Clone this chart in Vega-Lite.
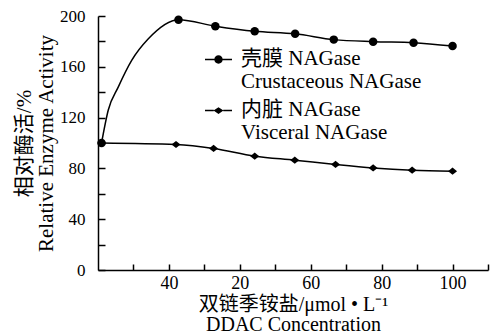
{
  "$schema": "https://vega.github.io/schema/vega-lite/v6.json",
  "width": 390,
  "height": 254,
  "autosize": {"type": "none"},
  "padding": {"left": 98, "top": 16, "right": 10, "bottom": 65},
  "background": "white",
  "config": {
    "view": {"stroke": null},
    "font": "Liberation Serif",
    "axis": {"grid": false, "domainColor": "black", "domainWidth": 1.5, "tickColor": "black", "tickWidth": 1.5, "labelColor": "black", "titleColor": "black", "titleFontWeight": "normal", "labelFont": "Liberation Serif", "titleFont": "Liberation Serif, Noto Sans CJK SC"}
  },
  "datasets": {
    "lines": [
      {"series": "Crustaceous", "x": 1, "y": 100},
      {"series": "Crustaceous", "x": 2.9, "y": 126},
      {"series": "Crustaceous", "x": 5.7, "y": 144},
      {"series": "Crustaceous", "x": 9.5, "y": 165},
      {"series": "Crustaceous", "x": 14.2, "y": 182},
      {"series": "Crustaceous", "x": 22.7, "y": 197},
      {"series": "Crustaceous", "x": 33.1, "y": 192},
      {"series": "Crustaceous", "x": 44.2, "y": 188},
      {"series": "Crustaceous", "x": 55.6, "y": 186},
      {"series": "Crustaceous", "x": 66.5, "y": 181.4},
      {"series": "Crustaceous", "x": 77.6, "y": 179.8},
      {"series": "Crustaceous", "x": 89, "y": 179},
      {"series": "Crustaceous", "x": 100, "y": 176.3},
      {"series": "Visceral", "x": 1, "y": 100},
      {"series": "Visceral", "x": 22, "y": 98.8},
      {"series": "Visceral", "x": 32.6, "y": 95.7},
      {"series": "Visceral", "x": 44.2, "y": 89.6},
      {"series": "Visceral", "x": 55.5, "y": 86.5},
      {"series": "Visceral", "x": 67, "y": 83.1},
      {"series": "Visceral", "x": 77.6, "y": 80.4},
      {"series": "Visceral", "x": 88.6, "y": 78.6},
      {"series": "Visceral", "x": 100, "y": 77.8}
    ],
    "measured": [
      {"series": "Crustaceous", "x": 1, "y": 100},
      {"series": "Crustaceous", "x": 22.7, "y": 197},
      {"series": "Crustaceous", "x": 33.1, "y": 192},
      {"series": "Crustaceous", "x": 44.2, "y": 188},
      {"series": "Crustaceous", "x": 55.6, "y": 186},
      {"series": "Crustaceous", "x": 66.5, "y": 181.4},
      {"series": "Crustaceous", "x": 77.6, "y": 179.8},
      {"series": "Crustaceous", "x": 89, "y": 179},
      {"series": "Crustaceous", "x": 100, "y": 176.3},
      {"series": "Visceral", "x": 1, "y": 100},
      {"series": "Visceral", "x": 22, "y": 98.8},
      {"series": "Visceral", "x": 32.6, "y": 95.7},
      {"series": "Visceral", "x": 44.2, "y": 89.6},
      {"series": "Visceral", "x": 55.5, "y": 86.5},
      {"series": "Visceral", "x": 67, "y": 83.1},
      {"series": "Visceral", "x": 77.6, "y": 80.4},
      {"series": "Visceral", "x": 88.6, "y": 78.6},
      {"series": "Visceral", "x": 100, "y": 77.8}
    ]
  },
  "encoding": {
    "x": {
      "field": "x", "type": "quantitative",
      "scale": {"domain": [0, 110], "nice": false, "zero": true},
      "axis": {
        "values": [10, 20, 30, 40, 50, 60, 70, 80, 90, 100, 110],
        "labelExpr": "datum.value == 20 ? '40' : datum.value == 40 ? '20' : (datum.value % 20 == 0 ? datum.label : '')",
        "tickSize": -6, "labelPadding": 10, "labelFontSize": 18,
        "title": ["双链季铵盐/μmol • L⁻¹", "DDAC Concentration"],
        "titleFontSize": 20, "titlePadding": 2, "titleLineHeight": 20
      }
    },
    "y": {
      "field": "y", "type": "quantitative",
      "scale": {"domain": [0, 200], "nice": false},
      "axis": {
        "values": [0, 20, 40, 60, 80, 100, 120, 140, 160, 180, 200],
        "labelExpr": "datum.value % 40 == 0 ? datum.label : ''",
        "tickSize": -7, "labelPadding": 20, "labelFontSize": 17,
        "title": ["相对酶活/%", "Relative Enzyme Activity"],
        "titleFontSize": 21, "titlePadding": 3, "titleLineHeight": 22
      }
    }
  },
  "layer": [
    {
      "data": {"name": "lines"},
      "mark": {"type": "line", "interpolate": "monotone", "strokeWidth": 1.5},
      "encoding": {
        "color": {
          "field": "series", "type": "nominal",
          "scale": {"domain": ["Crustaceous", "Visceral"], "range": ["black", "black"]},
          "legend": {
            "orient": "none", "legendX": 107, "legendY": 30,
            "title": null,
            "labelExpr": "datum.value === 'Crustaceous' ? ['壳膜 NAGase', 'Crustaceous NAGase'] : ['内脏 NAGase', 'Visceral NAGase']",
            "labelFont": "Liberation Serif, Noto Sans CJK SC",
            "labelFontSize": 21, "labelColor": "black", "labelLimit": 0,
            "labelBaseline": "top", "labelOffset": 9,
            "symbolSize": 729, "symbolStrokeWidth": 0, "symbolFillColor": "black",
            "rowPadding": 5,
            "encode": {
              "symbols": {"update": {
                "shape": {"signal": "datum.value === 'Crustaceous' ? 'M-1,-0.056H-0.28V0.056H-1ZM0.28,-0.056H1V0.056H0.28ZM-0.31,0A0.31,0.31 0 1,1 0.31,0A0.31,0.31 0 1,1 -0.31,0Z' : 'M-1,-0.056H-0.35V0.056H-1ZM0.35,-0.056H1V0.056H0.35ZM-0.37,0L0,-0.25L0.37,0L0,0.25Z'"},
                "fill": {"value": "black"},
                "fillOpacity": {"value": 1},
                "opacity": {"value": 1},
                "strokeWidth": {"value": 0}
              }},
              "labels": {"update": {"dy": {"value": -12}}}
            }
          }
        }
      }
    },
    {
      "data": {"name": "measured"},
      "transform": [{"filter": "datum.series === 'Crustaceous'"}],
      "mark": {"type": "point", "filled": true, "opacity": 1, "color": "black", "shape": "circle", "size": 72}
    },
    {
      "data": {"name": "measured"},
      "transform": [{"filter": "datum.series === 'Visceral'"}],
      "mark": {"type": "point", "filled": true, "opacity": 1, "color": "black", "shape": "M-1,0L0,-0.8L1,0L0,0.8Z", "size": 81}
    }
  ]
}
